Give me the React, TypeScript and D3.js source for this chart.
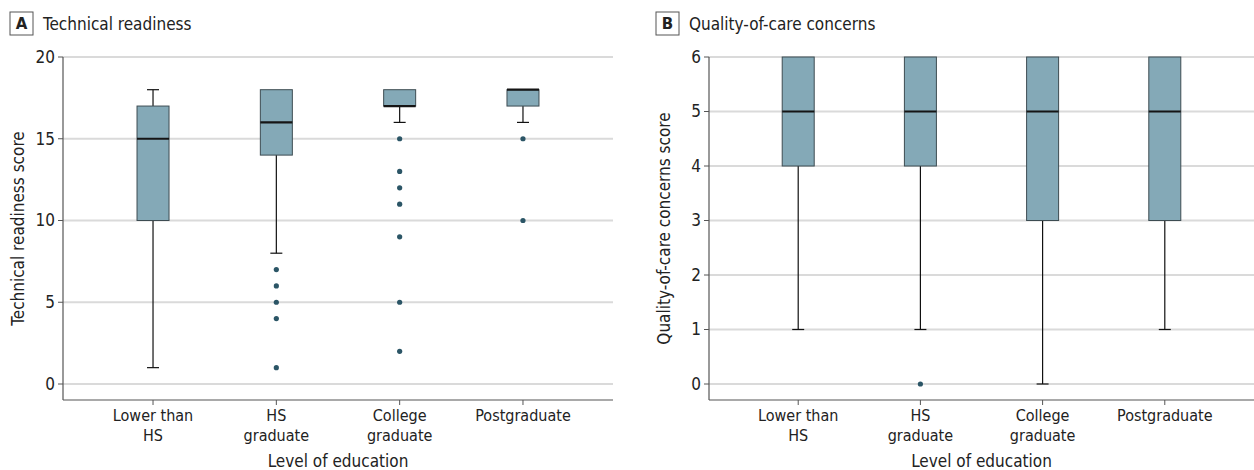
import React from 'react';
import * as d3 from 'd3';

const categories = ['Lower than HS', 'HS graduate', 'College graduate', 'Postgraduate'];
const tickLines = [['Lower than', 'HS'], ['HS', 'graduate'], ['College', 'graduate'], ['Postgraduate']];

// technical readiness: [whiskerLow, q1, median, q3, whiskerHigh]
const techStats = [
  [1, 10, 15, 17, 18],
  [8, 14, 16, 18, 18],
  [16, 17, 17, 18, 18],
  [16, 17, 18, 18, 18],
];
const techOutliers = [
  [],
  [7, 6, 5, 4, 1],
  [15, 13, 12, 11, 9, 5, 2],
  [15, 10],
];
const techTicks = [0, 5, 10, 15, 20];

// quality-of-care concerns
const careStats = [
  [1, 4, 5, 6, 6],
  [1, 4, 5, 6, 6],
  [0, 3, 5, 6, 6],
  [1, 3, 5, 6, 6],
];
const careOutliers = [[], [0], [], []];
const careTicks = [0, 1, 2, 3, 4, 5, 6];

const FONT = '"Liberation Sans Narrow", "DejaVu Sans Condensed", "Roboto Condensed", sans-serif';

type PanelProps = {
  letter: string;
  title: string;
  yLabel: string;
  x0: number;
  x1: number;
  yMax: number;
  ticks: number[];
  stats: number[][];
  outliers: number[][];
};

const Panel = ({ letter, title, yLabel, x0, x1, yMax, ticks, stats, outliers }: PanelProps) => {
  const top = 57;
  const zeroY = 384;
  const axisY = 400;
  const boxW = 32;

  const x = d3.scalePoint<string>().domain(categories).range([x0, x1]).padding(0.73);
  const y = d3.scaleLinear().domain([0, yMax]).range([zeroY, top]);

  return (
    <g fontFamily={FONT}>
      {/* panel label */}
      <rect x={x0 - 53} y={12} width={23} height={23} fill="#fff" stroke="#555" strokeWidth={1} />
      <text x={x0 - 41.5} y={29} textAnchor="middle" fontSize={15} fontWeight="bold" fill="#222"
        fontFamily='"DejaVu Sans", sans-serif'>{letter}</text>
      <text x={x0 - 20} y={30} fontSize={17} fill="#222">{title}</text>

      {/* grid */}
      {ticks.map(t => (
        <line key={t} x1={x0} x2={x1} y1={y(t)} y2={y(t)} stroke="#dadada" strokeWidth={2} />
      ))}

      {/* axes */}
      <line x1={x0} x2={x0} y1={top} y2={axisY} stroke="#555" strokeWidth={1.2} />
      <line x1={x0} x2={x1} y1={axisY} y2={axisY} stroke="#555" strokeWidth={1.2} />
      {ticks.map(t => (
        <g key={t}>
          <line x1={x0 - 5} x2={x0} y1={y(t)} y2={y(t)} stroke="#555" />
          <text x={x0 - 8} y={y(t)} dy="0.35em" textAnchor="end" fontSize={17} fill="#222">{t}</text>
        </g>
      ))}
      {categories.map((c, i) => (
        <g key={c}>
          <line x1={x(c)!} x2={x(c)!} y1={axisY} y2={axisY + 5} stroke="#555" />
          {tickLines[i].map((ln, j) => (
            <text key={j} x={x(c)!} y={421 + j * 20} textAnchor="middle" fontSize={16} fill="#222">{ln}</text>
          ))}
        </g>
      ))}
      <text x={(x0 + x1) / 2} y={467} textAnchor="middle" fontSize={17} fill="#222">Level of education</text>
      <text transform={`translate(${x0 - 39},${(top + axisY) / 2}) rotate(-90)`} textAnchor="middle"
        fontSize={17} fill="#222">{yLabel}</text>

      {/* boxes */}
      {categories.map((c, i) => {
        const [lo, q1, med, q3, hi] = stats[i];
        const cx = x(c)!;
        return (
          <g key={c}>
            {lo < q1 && (
              <>
                <line x1={cx} x2={cx} y1={y(q1)} y2={y(lo)} stroke="#111" strokeWidth={1.2} />
                <line x1={cx - 6} x2={cx + 6} y1={y(lo)} y2={y(lo)} stroke="#111" strokeWidth={1.2} />
              </>
            )}
            {hi > q3 && (
              <>
                <line x1={cx} x2={cx} y1={y(q3)} y2={y(hi)} stroke="#111" strokeWidth={1.2} />
                <line x1={cx - 6} x2={cx + 6} y1={y(hi)} y2={y(hi)} stroke="#111" strokeWidth={1.2} />
              </>
            )}
            <rect x={cx - boxW / 2} y={y(q3)} width={boxW} height={y(q1) - y(q3)}
              fill="#84a9b7" stroke="#3d4c52" strokeWidth={1} />
            <line x1={cx - boxW / 2} x2={cx + boxW / 2} y1={y(med)} y2={y(med)} stroke="#151515" strokeWidth={2.2} />
            {outliers[i].map((o, k) => (
              <circle key={k} cx={cx} cy={y(o)} r={2.6} fill="#2b5566" />
            ))}
          </g>
        );
      })}
    </g>
  );
};

export default function App() {
  return (
    <div style={{ position: 'absolute', left: 0, top: 0 }}>
      <svg width={1254} height={470} style={{ display: 'block', background: '#fff' }}>
        <Panel letter="A" title="Technical readiness" yLabel="Technical readiness score"
          x0={63} x1={613} yMax={20} ticks={techTicks} stats={techStats} outliers={techOutliers} />
        <Panel letter="B" title="Quality-of-care concerns" yLabel="Quality-of-care concerns score"
          x0={709} x1={1254} yMax={6} ticks={careTicks} stats={careStats} outliers={careOutliers} />
      </svg>
    </div>
  );
}
